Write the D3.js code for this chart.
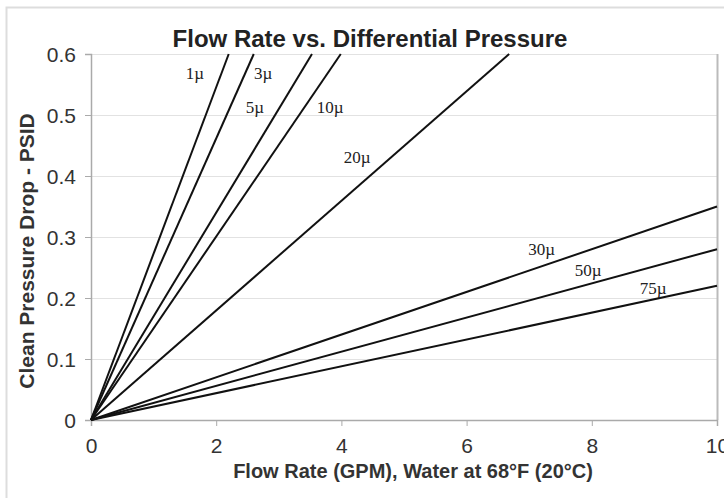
<!DOCTYPE html>
<html>
<head>
<meta charset="utf-8">
<script src="https://cdn.jsdelivr.net/npm/d3@7"></script>
<style>
  body { margin: 0; background: #fff; }
  .axis text { font-family: Arial, "Liberation Sans", sans-serif; font-size: 21px; fill: #333; }
  .axis path, .axis line { stroke: #aaa; }
  .grid line { stroke: #e2e2e2; }
  .grid path { display: none; }
</style>
</head>
<body>
<div id="chart-area"></div>
<script>
// filter ratings and where each straight line ends (it starts at 0,0)
var filters   = ["1\u00b5", "3\u00b5", "5\u00b5", "10\u00b5", "20\u00b5", "30\u00b5", "50\u00b5", "75\u00b5"];
var endFlow   = [2.20, 2.60, 3.53, 3.99, 6.68, 10, 10, 10];
var endDrop   = [0.6, 0.6, 0.6, 0.6, 0.6, 0.35, 0.28, 0.22];
// label anchors, in data units
var labelFlow = [1.66, 2.75, 2.62, 3.82, 4.25, 7.20, 7.94, 8.98];
var labelDrop = [0.569, 0.569, 0.513, 0.513, 0.431, 0.280, 0.246, 0.216];

var xTicks = [0, 2, 4, 6, 8, 10];
var yTicks = [0, 0.1, 0.2, 0.3, 0.4, 0.5, 0.6];

var margin = { top: 54, right: 7, bottom: 78, left: 91 },
    svgWidth = 724,
    svgHeight = 498,
    width = svgWidth - margin.left - margin.right,
    height = svgHeight - margin.top - margin.bottom;

var svg = d3.select("#chart-area")
            .append("svg")
            .attr("width", svgWidth)
            .attr("height", svgHeight);

// outer chart frame
svg.append("rect")
   .attr("x", 6.5)
   .attr("y", 7.5)
   .attr("width", 740)
   .attr("height", 520)
   .attr("fill", "none")
   .attr("stroke", "#ddd")
   .attr("stroke-width", 2);

var g = svg.append("g")
           .attr("transform", "translate(" + margin.left + "," + margin.top + ")");

var x = d3.scaleLinear().domain([0, 10]).range([0, width]);
var y = d3.scaleLinear().domain([0, 0.6]).range([height, 0]);

g.append("g")
 .attr("class", "grid")
 .call(d3.axisLeft(y).tickValues(yTicks.slice(1)).tickSize(-width).tickFormat(""));

// right border of plot
g.append("line")
 .attr("x1", width + 0.5).attr("x2", width + 0.5)
 .attr("y1", 0).attr("y2", height)
 .attr("stroke", "#bbb")
 .attr("stroke-width", 2);

var xAxisGroup = g.append("g")
                  .attr("class", "x axis")
                  .attr("transform", "translate(0," + height + ")")
                  .call(d3.axisBottom(x).tickValues(xTicks).tickSize(6).tickPadding(8)
                          .tickFormat(d3.format("d")));

var yAxisGroup = g.append("g")
                  .attr("class", "y axis")
                  .call(d3.axisLeft(y).tickValues(yTicks).tickSize(6).tickPadding(9)
                          .tickFormat(function(d) { return d === 0 ? "0" : d3.format(".1f")(d); }));

xAxisGroup.select(".domain").attr("stroke-width", 1.5);
yAxisGroup.select(".domain").attr("stroke-width", 1.5);
xAxisGroup.selectAll(".tick text").attr("dy", "0.9em");
yAxisGroup.selectAll(".tick text").attr("dy", "0.35em");

var series = filters.map(function(f, i) {
  return { name: f, points: [[0, 0], [endFlow[i], endDrop[i]]], lx: labelFlow[i], ly: labelDrop[i] };
});

var line = d3.line()
             .x(function(d) { return x(d[0]); })
             .y(function(d) { return y(d[1]); });

g.selectAll("path.flow")
 .data(series)
 .enter().append("path")
 .attr("class", "flow")
 .attr("d", function(d) { return line(d.points); })
 .attr("fill", "none")
 .attr("stroke", "#111")
 .attr("stroke-width", 2);

g.selectAll("text.flabel")
 .data(series)
 .enter().append("text")
 .attr("class", "flabel")
 .attr("x", function(d) { return x(d.lx); })
 .attr("y", function(d) { return y(d.ly); })
 .attr("dy", "0.35em")
 .attr("text-anchor", "middle")
 .style("font-family", "'Liberation Serif', 'Times New Roman', serif")
 .style("font-size", "17px")
 .style("fill", "#222")
 .text(function(d) { return d.name; });

svg.append("text")
   .attr("x", 370)
   .attr("y", 47)
   .attr("text-anchor", "middle")
   .style("font-family", "Arial, 'Liberation Sans', sans-serif")
   .style("font-weight", "bold")
   .style("font-size", "24px")
   .style("fill", "#222")
   .text("Flow Rate vs. Differential Pressure");

g.append("text")
 .attr("class", "x axis-label")
 .attr("x", 322)
 .attr("y", height + 58)
 .attr("text-anchor", "middle")
 .style("font-family", "Arial, 'Liberation Sans', sans-serif")
 .style("font-weight", "bold")
 .style("font-size", "20px")
 .style("fill", "#333")
 .text("Flow Rate (GPM), Water at 68\u00b0F (20\u00b0C)");

g.append("text")
 .attr("class", "y axis-label")
 .attr("x", -(251 - margin.top))
 .attr("y", -57)
 .attr("text-anchor", "middle")
 .attr("transform", "rotate(-90)")
 .style("font-family", "Arial, 'Liberation Sans', sans-serif")
 .style("font-weight", "bold")
 .style("font-size", "21px")
 .style("fill", "#333")
 .text("Clean Pressure Drop - PSID");
</script>
</body>
</html>
